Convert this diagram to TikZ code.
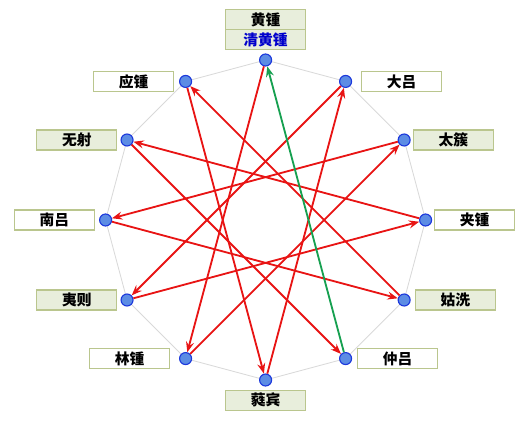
\documentclass[tikz,border=0pt]{standalone}
\usepackage{fontspec}
\newfontfamily\cjk{Noto Sans CJK SC}
\usepackage{xcolor}
\usepackage{tikz}
\usetikzlibrary{arrows.meta, positioning}
\definecolor{LvRed}{RGB}{232, 20, 20}
\definecolor{LvGreen}{RGB}{22, 160, 80}
\definecolor{DotBlue}{RGB}{92, 140, 228}
\definecolor{DotEdge}{RGB}{28, 56, 220}
\definecolor{BoxEdge}{RGB}{186, 198, 142}
\definecolor{BoxFill}{RGB}{232, 238, 220}

\tikzset{
    dot/.style={circle, fill=DotBlue, draw=DotEdge, line width=0.8pt, minimum size=0.3cm, inner sep=0pt},
    lvbox/.style={draw=BoxEdge, line width=0.8pt, minimum width=2cm, minimum height=0.5cm, inner sep=0pt,
        font=\cjk\bfseries\fontsize{10.5}{12}\selectfont},
    yang/.style={lvbox, fill=BoxFill},
    yin/.style={lvbox, fill=white},
    shengfa/.style={-{Stealth[length=2.6mm, width=2mm, inset=0.9mm]}, LvRed, line width=1.3pt}
}

\begin{document}
\begin{tikzpicture}
    \useasboundingbox (-6.64,-5.03) rectangle (6.61,5.5);
    % 十二边形
    \draw[gray!30, line width=0.6pt] (90:4) \foreach \i in {1,...,11} { -- ({90-30*\i}:4) } -- cycle;

    % 十二律位置
    \foreach \n [count=\i from 0] in {huang, dalv, taicu, jiazhong, guxian, zhonglv, ruibin, linzhong, yize, nanlv, wuyi, yingzhong}
        \node[dot] (\n) at ({90-30*\i}:4) {};

    % 律名
    \node[yang, above=0.075cm of huang, text={rgb,255:red,0;green,0;blue,204}] (qinghuangL) {清黄锺};
    \node[yang, above=-0.8pt of qinghuangL] (huangL) {黄锺};
    \node[yin, right=0.22cm of dalv] (dalvL) {大吕};
    \node[yang, right=0.05cm of taicu] (taicuL) {太簇};
    \node[yin, right=0.05cm of jiazhong] (jiazhongL) {夹锺};
    \node[yang, right=0.1cm of guxian] (guxianL) {姑洗};
    \node[yin, right=0.12cm of zhonglv] (zhonglvL) {仲吕};
    \node[yang, below=0.08cm of ruibin] (ruibinL) {蕤宾};
    \node[yin, left=0.22cm of linzhong] (linzhongL) {林锺};
    \node[yang, left=0.075cm of yize] (yizeL) {夷则};
    \node[yin, left=0.1cm of nanlv] (nanlvL) {南吕};
    \node[yang, left=0.075cm of wuyi] (wuyiL) {无射};
    \node[yin, left=0.12cm of yingzhong] (yingzhongL) {应锺};

    % 三分损益相生
    \foreach \a/\b in {huang/linzhong, linzhong/taicu, taicu/nanlv, nanlv/guxian, guxian/yingzhong, yingzhong/ruibin,
                       ruibin/dalv, dalv/yize, yize/jiazhong, jiazhong/wuyi, wuyi/zhonglv}
        \draw[shengfa] (\a) -- (\b);
    \draw[shengfa, LvGreen] (zhonglv) -- (huang);
\end{tikzpicture}
\end{document}
